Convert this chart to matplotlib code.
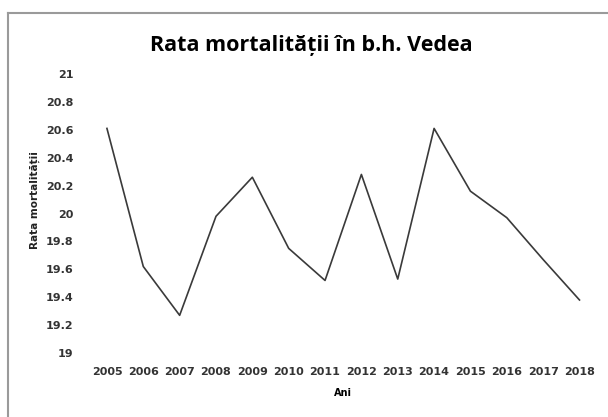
import matplotlib
matplotlib.use('Agg')
import matplotlib.pyplot as plt
from matplotlib.lines import Line2D

# annual mortality rate, Vedea river basin
years = ['2005', '2006', '2007', '2008', '2009', '2010', '2011',
         '2012', '2013', '2014', '2015', '2016', '2017', '2018']
rate = [20.61, 19.62, 19.27, 19.98, 20.26, 19.75, 19.52,
        20.28, 19.53, 20.61, 20.16, 19.97, 19.67, 19.38]
yticks = [19, 19.2, 19.4, 19.6, 19.8, 20, 20.2, 20.4, 20.6, 20.8, 21]
ytick_labels = ['19', '19.2', '19.4', '19.6', '19.8', '20', '20.2',
                '20.4', '20.6', '20.8', '21']

fig = plt.figure(figsize=(6.08, 4.17), dpi=100)
ax = fig.add_axes([0.146, 0.1535, 0.837, 0.669])

xs = list(range(len(years)))
ax.plot(xs, rate, color='#3a3a3a', linewidth=1.2)

ax.set_xlim(-0.5, len(years) - 0.5)
ax.set_ylim(19, 21)
ax.set_xticks(xs)
ax.set_xticklabels(years)
ax.set_yticks(yticks)
ax.set_yticklabels(ytick_labels)
ax.tick_params(length=0, labelsize=8, labelcolor='#333333')
ax.tick_params(axis='x', pad=10)
ax.tick_params(axis='y', pad=11)
for lab in ax.get_xticklabels() + ax.get_yticklabels():
    lab.set_fontweight('bold')
for s in ax.spines.values():
    s.set_visible(False)

ax.set_xlabel('Ani', fontsize=7, fontweight='bold', labelpad=8)
fig.text(0.057, 0.52, 'Rata mortalității', rotation=90, fontsize=7.5,
         fontweight='bold', ha='center', va='center', color='#222222')
fig.text(0.512, 0.89, 'Rata mortalității în b.h. Vedea', fontsize=15.5,
         fontweight='bold', ha='center', va='center', family='Open Sans')

# chart frame
fig.add_artist(Line2D([0.013, 1.0], [0.969, 0.969], color='#9a9a9a', lw=1.5))
fig.add_artist(Line2D([0.013, 0.013], [0.0, 0.969], color='#9a9a9a', lw=1.5))

fig.savefig('out.png', dpi=100)
